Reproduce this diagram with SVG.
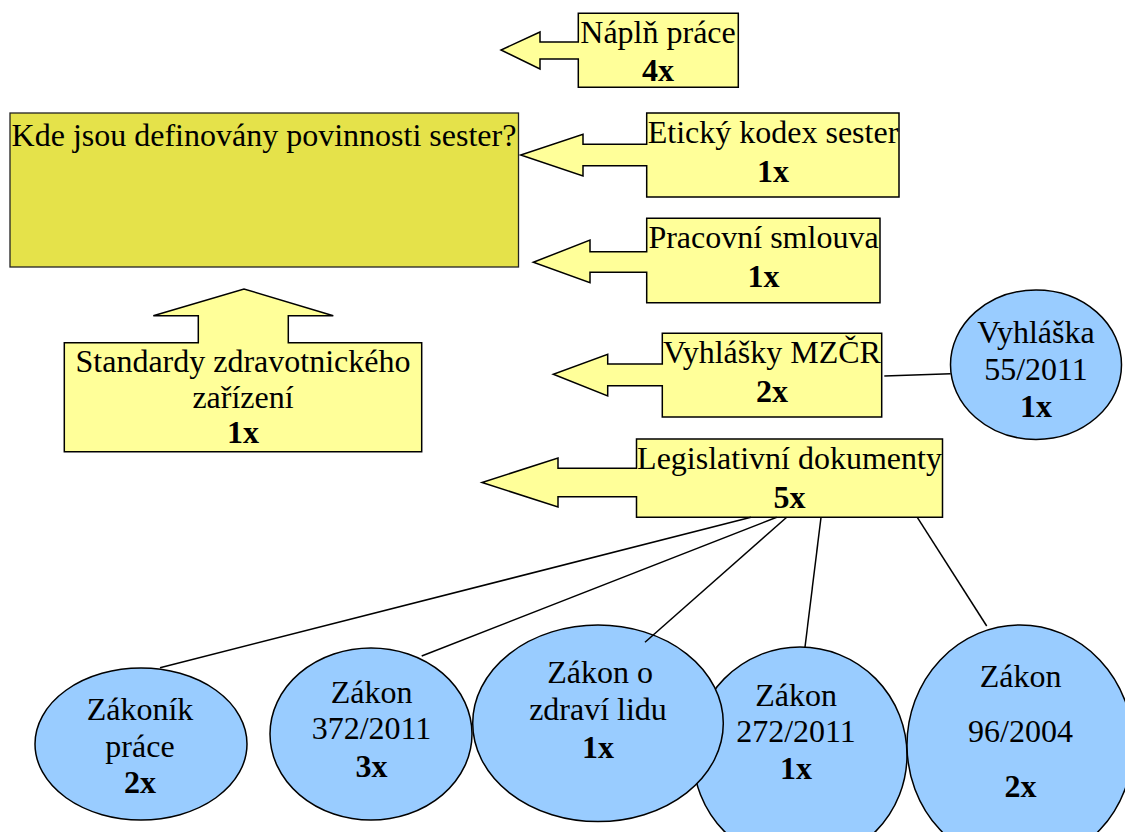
<svg xmlns="http://www.w3.org/2000/svg" width="1125" height="832" viewBox="0 0 1125 832">
  <style>
    .note { fill: #FFFF99; stroke: #000; stroke-width: 1.5; stroke-linejoin: miter; }
    .main { fill: #E5E24A; stroke: #222; stroke-width: 1.3; }
    .law { fill: #99CCFF; stroke: #000; stroke-width: 1.5; }
    .link { stroke: #000; stroke-width: 1.5; fill: none; }
    text { font-family: "Liberation Serif", "Times New Roman", serif; font-size: 32px; fill: #000; text-anchor: middle; }
    .count { font-weight: bold; }
  </style>
  <rect width="1125" height="832" fill="#fff"/>

  <!-- central question -->
  <g id="question">
    <rect class="main" x="10" y="113" width="508.5" height="154"/>
    <text x="264" y="146">Kde jsou definovány povinnosti sester?</text>
  </g>

  <!-- sources pointing at the question -->
  <g id="napln-prace">
    <path class="note" d="M578.3 13.3 H738.3 V87.3 H578.3 V59 H540 V69 L501 50 L540 32 V42 H578.3 Z"/>
    <text x="658" y="43.3">Náplň práce</text>
    <text class="count" x="658" y="81">4x</text>
  </g>

  <g id="eticky-kodex">
    <path class="note" d="M646.7 113 H899 V197 H646.7 V165.7 H583 V176 L520.7 155 L583 134.3 V144.3 H646.7 Z"/>
    <text x="773" y="143">Etický kodex sester</text>
    <text class="count" x="773" y="181.5">1x</text>
  </g>

  <g id="pracovni-smlouva">
    <path class="note" d="M646.7 218.3 H880 V302.7 H646.7 V272.3 H590 V282.7 L533.3 262.3 L590 240 V251.7 H646.7 Z"/>
    <text x="763.5" y="248.3">Pracovní smlouva</text>
    <text class="count" x="763.5" y="286.5">1x</text>
  </g>

  <g id="vyhlasky-mzcr">
    <path class="note" d="M662.3 333.3 H881.7 V417 H662.3 V385.7 H607.7 V396 L553.3 374.3 L607.7 354.3 V364 H662.3 Z"/>
    <text x="772" y="363.3">Vyhlášky MZČR</text>
    <text class="count" x="772" y="401.7">2x</text>
  </g>

  <g id="legislativni-dokumenty">
    <path class="note" d="M636.5 439 H942.5 V517.3 H636.5 V496.7 H558 V507 L482 482.5 L558 458 V468.3 H636.5 Z"/>
    <text x="789.5" y="469">Legislativní dokumenty</text>
    <text class="count" x="789.5" y="507.7">5x</text>
  </g>

  <g id="standardy">
    <path class="note" d="M64.3 342.7 H198.3 V315.7 H153.3 L244 289 L333.3 315.7 H288.3 V342.7 H421.7 V451.7 H64.3 Z"/>
    <text x="243" y="371.7">Standardy zdravotnického</text>
    <text x="243" y="408.3">zařízení</text>
    <text class="count" x="243" y="443.3">1x</text>
  </g>

  <!-- individual regulations -->
  <g id="vyhlaska-55">
    <ellipse class="law" cx="1036" cy="364.7" rx="85.5" ry="74.7"/>
    <text x="1036" y="342.7">Vyhláška</text>
    <text x="1036" y="380">55/2011</text>
    <text class="count" x="1036" y="416.7">1x</text>
  </g>

  <g id="zakonik-prace">
    <ellipse class="law" cx="141" cy="744" rx="106" ry="76"/>
    <text x="140" y="720">Zákoník</text>
    <text x="140" y="756.7">práce</text>
    <text class="count" x="140" y="793.3">2x</text>
  </g>

  <g id="zakon-372">
    <ellipse class="law" cx="371" cy="734" rx="101" ry="86"/>
    <text x="371.5" y="702.7">Zákon</text>
    <text x="371.5" y="739.3">372/2011</text>
    <text class="count" x="371.5" y="776.7">3x</text>
  </g>

  <g id="zakon-272">
    <ellipse class="law" cx="800" cy="755" rx="107" ry="108"/>
    <text x="796" y="706">Zákon</text>
    <text x="796" y="741.7">272/2011</text>
    <text class="count" x="796" y="779.3">1x</text>
  </g>

  <g id="zakon-96">
    <ellipse class="law" cx="1020" cy="745" rx="113" ry="120"/>
    <text x="1020.5" y="686.7">Zákon</text>
    <text x="1020.5" y="741.7">96/2004</text>
    <text class="count" x="1020.5" y="796.7">2x</text>
  </g>

  <g id="zakon-zdravi-lidu">
    <ellipse class="law" cx="598" cy="723.3" rx="125.3" ry="98.3"/>
    <text x="600" y="683.3">Zákon o</text>
    <text x="598" y="720">zdraví lidu</text>
    <text class="count" x="598" y="758.3">1x</text>
  </g>

  <!-- connectors -->
  <g id="connectors">
    <line class="link" x1="884.3" y1="376" x2="950.7" y2="373.7"/>
    <line class="link" x1="751" y1="517.3" x2="160" y2="667.7"/>
    <line class="link" x1="776.7" y1="517.3" x2="421.7" y2="656"/>
    <line class="link" x1="786.7" y1="517.3" x2="645" y2="642.3"/>
    <line class="link" x1="821" y1="517.3" x2="805" y2="647"/>
    <line class="link" x1="917.3" y1="517.3" x2="986.7" y2="626"/>
  </g>
</svg>
